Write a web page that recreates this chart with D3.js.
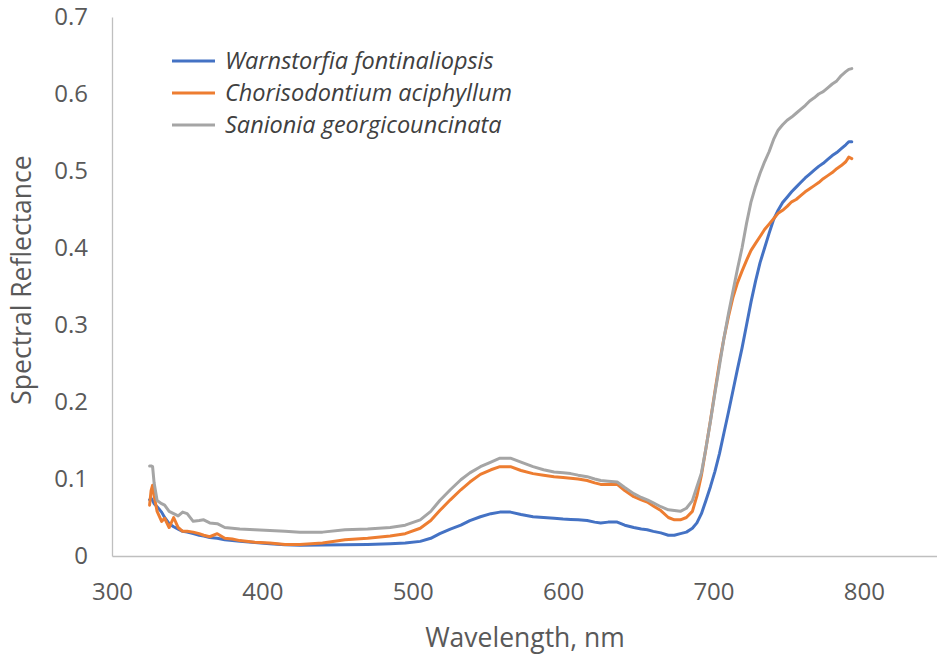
<!DOCTYPE html>
<html><head><meta charset="utf-8">
<script src="https://cdn.jsdelivr.net/npm/d3@7"></script>
<style>body{margin:0;background:#fff;} svg{display:block;}</style>
</head><body>
<svg id="chart" width="937" height="657"></svg>
<script>
const wavelengths = [325,326,327,328,330,333,335,338,341,344,347,350,354,358,361,365,370,375,380,385,395,405,415,425,440,455,470,485,495,505,512,518,525,532,538,545,552,558,565,572,580,587,594,600,605,610,616,621,625,630,636,641,647,652,656,660,665,670,674,678,682,686,689,692,695,698,701,704,707,710,713,716,719,722,725,728,731,734,737,740,743,746,749,752,755,758,761,764,767,770,773,776,779,782,785,788,790,792];
const warnstorfia = [0.073,0.075,0.072,0.068,0.064,0.057,0.050,0.042,0.038,0.035,0.032,0.031,0.029,0.027,0.026,0.024,0.023,0.021,0.020,0.019,0.0175,0.016,0.0145,0.014,0.0143,0.0145,0.015,0.016,0.017,0.019,0.023,0.029,0.035,0.040,0.046,0.051,0.055,0.057,0.057,0.054,0.051,0.050,0.049,0.048,0.0475,0.047,0.046,0.044,0.043,0.044,0.044,0.040,0.037,0.035,0.034,0.032,0.030,0.027,0.027,0.029,0.031,0.036,0.043,0.055,0.072,0.090,0.110,0.133,0.160,0.187,0.215,0.243,0.270,0.300,0.330,0.357,0.381,0.400,0.419,0.437,0.449,0.459,0.466,0.473,0.479,0.485,0.491,0.496,0.501,0.506,0.510,0.515,0.520,0.524,0.529,0.534,0.538,0.538];
const chorisodontium = [0.066,0.085,0.092,0.078,0.058,0.045,0.049,0.037,0.050,0.037,0.032,0.032,0.031,0.029,0.027,0.025,0.029,0.023,0.022,0.020,0.018,0.017,0.015,0.015,0.017,0.021,0.023,0.026,0.029,0.036,0.046,0.059,0.073,0.086,0.096,0.106,0.112,0.116,0.116,0.111,0.107,0.105,0.103,0.102,0.101,0.100,0.098,0.095,0.093,0.093,0.093,0.085,0.077,0.073,0.070,0.065,0.059,0.050,0.047,0.047,0.050,0.058,0.078,0.105,0.140,0.176,0.214,0.251,0.283,0.311,0.336,0.355,0.370,0.384,0.397,0.406,0.415,0.424,0.431,0.438,0.445,0.449,0.454,0.460,0.463,0.468,0.473,0.477,0.481,0.485,0.490,0.494,0.498,0.503,0.507,0.512,0.518,0.516];
const sanionia = [0.117,0.117,0.116,0.095,0.072,0.068,0.066,0.058,0.055,0.052,0.057,0.055,0.045,0.046,0.047,0.043,0.042,0.037,0.036,0.035,0.034,0.033,0.032,0.031,0.031,0.034,0.035,0.037,0.040,0.047,0.058,0.072,0.086,0.099,0.108,0.116,0.122,0.127,0.127,0.122,0.116,0.112,0.109,0.108,0.107,0.105,0.103,0.100,0.098,0.097,0.096,0.089,0.081,0.076,0.073,0.069,0.064,0.060,0.059,0.058,0.062,0.072,0.090,0.108,0.140,0.175,0.212,0.247,0.283,0.315,0.344,0.373,0.400,0.432,0.460,0.480,0.497,0.512,0.525,0.541,0.553,0.560,0.566,0.570,0.575,0.580,0.585,0.591,0.595,0.600,0.603,0.608,0.613,0.617,0.624,0.629,0.632,0.633];
const seriesNames = ["Warnstorfia fontinaliopsis","Chorisodontium aciphyllum","Sanionia georgicouncinata"];
const seriesColors = ["#4472C4","#ED7D31","#A5A5A5"];
const xTicks = [300,400,500,600,700,800];
const yTicks = [0,0.1,0.2,0.3,0.4,0.5,0.6,0.7];

const svg = d3.select("#chart");
const font = "'Open Sans', 'Noto Sans', sans-serif";
const x = d3.scaleLinear().domain([300,850]).range([112,939]);
const y = d3.scaleLinear().domain([0,0.7]).range([556,17]);

const xAxis = svg.append("g").attr("transform","translate(0,556)")
  .call(d3.axisBottom(x).tickValues(xTicks).tickSize(0).tickPadding(27).tickFormat(d3.format("d")));
const yAxis = svg.append("g").attr("transform","translate(112,0)")
  .call(d3.axisLeft(y).tickValues(yTicks).tickSize(0).tickPadding(24).tickFormat(d=> d===0?"0":d3.format(".1f")(d)));
[xAxis,yAxis].forEach(g=>{
  g.select(".domain").attr("stroke","#bfbfbf").attr("stroke-width",1.3);
  g.selectAll("text").attr("fill","#595959").style("font-family",font).style("font-size","24px");
});
xAxis.selectAll("text").attr("dy","0").attr("y",44);

const data = [warnstorfia, chorisodontium, sanionia];
const line = d3.line().x((d,i)=>x(wavelengths[i])).y(d=>y(d)).curve(d3.curveLinear);
data.forEach((vals,k)=>{
  svg.append("path").datum(vals).attr("d",line)
    .attr("fill","none").attr("stroke",seriesColors[k]).attr("stroke-width",3)
    .attr("stroke-linejoin","round").attr("stroke-linecap","round");
});

const lg = svg.append("g");
seriesNames.forEach((n,i)=>{
  const yy = 61 + i*32;
  lg.append("line").attr("x1",172).attr("x2",215).attr("y1",yy).attr("y2",yy)
    .attr("stroke",seriesColors[i]).attr("stroke-width",3);
  lg.append("text").attr("x",225).attr("y",yy+8).text(n)
    .attr("fill","#404040").style("font-family",font).style("font-style","italic").style("font-size","23.5px");
});

svg.append("text").attr("x",525).attr("y",647).attr("text-anchor","middle").text("Wavelength, nm")
  .attr("fill","#595959").style("font-family",font).style("font-size","26.5px");
svg.append("text").attr("transform","translate(31,280) rotate(-90)").attr("text-anchor","middle").text("Spectral Reflectance")
  .attr("fill","#595959").style("font-family",font).style("font-size","26.5px");
</script>
</body></html>
